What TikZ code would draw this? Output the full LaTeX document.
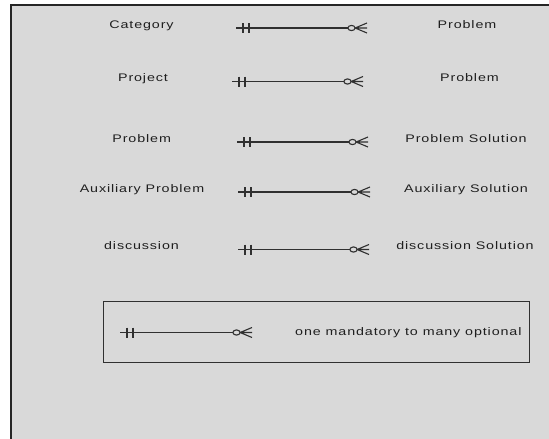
\documentclass[tikz,border=0pt]{standalone}
\usepackage{fontspec}
\setmainfont{Liberation Sans}[FakeStretch=1.3,LetterSpace=8]
\usetikzlibrary{calc}
\definecolor{bg}{HTML}{D9D9D9}
\definecolor{ink}{HTML}{303030}
\tikzset{
  erl/.style={draw=ink,line width=1.1pt},
  lbl/.style={inner sep=0pt,anchor=base,font=\fontsize{11pt}{13pt}\selectfont,text=black!88},
}
\newcommand{\erline}[2]{%
  \draw[erl] (#1) -- ($(#2)+(-19,0)$);
  \draw[erl] ($(#1)+(7,-5)$) -- ($(#1)+(7,5)$);
  \draw[erl] ($(#1)+(13,-5)$) -- ($(#1)+(13,5)$);
  \draw[erl] ($(#2)+(-15.5,0)$) ellipse (3.6 and 2.6);
  \draw[erl] ($(#2)+(-11.9,0)$) -- ($(#2)+(0,-5)$)
             ($(#2)+(-11.9,0)$) -- ($(#2)+(0,5)$)
             ($(#2)+(-11.9,0)$) -- (#2);
}
\begin{document}
\begin{tikzpicture}[x=1pt,y=-1pt]
\useasboundingbox (0,0) rectangle (549,439);
\fill[white] (0,0) rectangle (549,439);
\fill[bg] (11,5) rectangle (549,439);
\draw[black!85,line width=2pt] (11,439) -- (11,5) -- (549,5);

% entity labels
\node[lbl] (l1) at (141.5,28) {Category};
\node[lbl] (r1) at (467,28) {Problem};
\node[lbl] (l2) at (143,81.5) {Project};
\node[lbl] (r2) at (469.5,81.5) {Problem};
\node[lbl] (l3) at (141.7,142) {Problem};
\node[lbl] (r3) at (466,142) {Problem Solution};
\node[lbl] (l4) at (142,192) {Auxiliary Problem};
\node[lbl] (r4) at (466,192) {Auxiliary Solution};
\node[lbl] (l5) at (141.5,249.5) {discussion};
\node[lbl] (r5) at (465,249.5) {discussion Solution};

% relationship endpoints
\coordinate (a1) at (236,28);   \coordinate (b1) at (367,28);
\coordinate (a2) at (232,81.5); \coordinate (b2) at (363,81.5);
\coordinate (a3) at (237,142);  \coordinate (b3) at (368,142);
\coordinate (a4) at (238,192);  \coordinate (b4) at (370,192);
\coordinate (a5) at (238,249.5);\coordinate (b5) at (369,249.5);
\erline{a1}{b1}
\erline{a2}{b2}
\erline{a3}{b3}
\erline{a4}{b4}
\erline{a5}{b5}

% legend
\node[draw=ink,line width=1.3pt,minimum width=426pt,minimum height=61pt,inner sep=0pt,anchor=north west] (legend) at (103,301) {};
\coordinate (la) at (120,332.5); \coordinate (lb) at (252,332.5);
\erline{la}{lb}
\node[lbl,anchor=base west] (lt) at (295,335) {one mandatory to many optional};
\end{tikzpicture}
\end{document}
